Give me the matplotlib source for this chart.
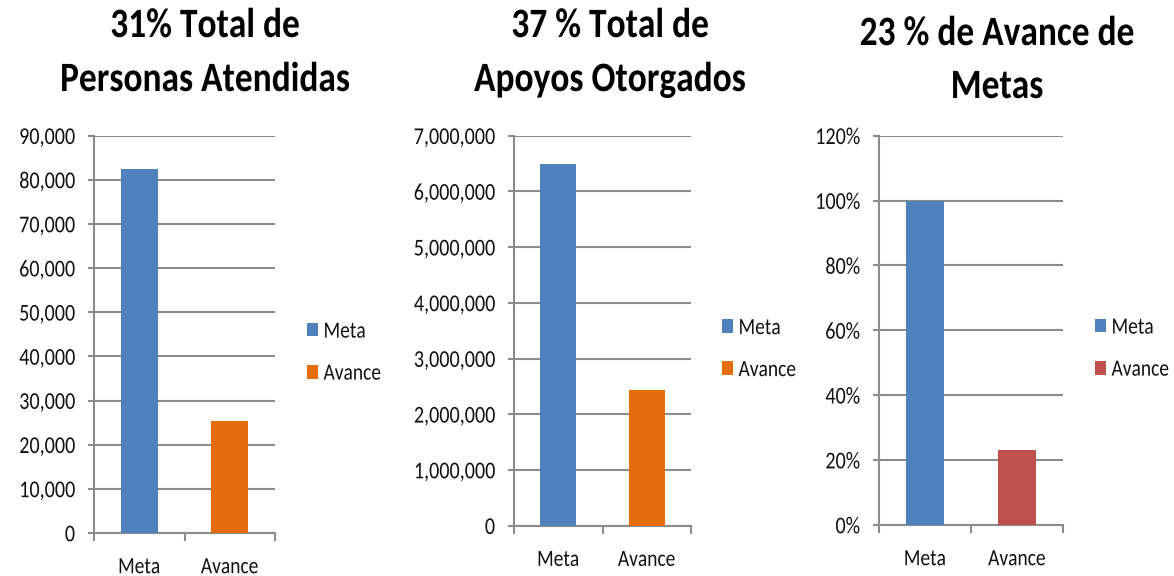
import matplotlib
matplotlib.use("Agg")
import matplotlib.pyplot as plt
from matplotlib.ticker import StrMethodFormatter, PercentFormatter
from matplotlib.patheffects import AbstractPathEffect
from matplotlib.transforms import Affine2D

# ---- data ----
categories = ["Meta", "Avance"]
personas_values = [82400, 25400]
apoyos_values = [6490000, 2435000]
metas_values = [1.00, 0.23]
titles = [
    ["31% Total de", "Personas Atendidas"],
    ["37 % Total de", "Apoyos Otorgados"],
    ["23 % de Avance de", "Metas"],
]
y_limits = [(0, 90000), (0, 7000000), (0, 1.2)]
y_steps = [10000, 1000000, 0.2]

FONT = ["Carlito", "DejaVu Sans"]
plt.rcParams["font.family"] = FONT

BLUE = "#4F81BD"
ORANGE = "#E46C0A"
RED = "#C0504D"
GRID = "#8C8C8C"
TXT = "#111111"


class VStretch(AbstractPathEffect):
    """Stretch glyphs vertically (the reference image is taller than wide)."""

    def __init__(self, sy, y0=0.0):
        super().__init__()
        self.sy = sy
        self.y0 = y0

    def draw_path(self, renderer, gc, tpath, affine, rgbFace=None):
        t = Affine2D().translate(0, -self.y0).scale(1, self.sy).translate(0, self.y0)
        renderer.draw_path(gc, tpath, t + affine, rgbFace)


STRETCH_MID = [VStretch(1.2, 32.0)]
STRETCH_BASE = [VStretch(1.18, 0.0)]

W, H = 1174, 576
fig = plt.figure(figsize=(W / 100, H / 100), dpi=100)


def fx(px):
    return px / W


def fy(py):
    return 1 - py / H


# axes rectangles in pixel coords (left, right, top, bottom)
rects = [(94, 275, 135.7, 533), (514, 691, 135.7, 525.7), (879, 1063, 135.7, 525)]
bar_colors = [[BLUE, ORANGE], [BLUE, ORANGE], [BLUE, RED]]
series = [personas_values, apoyos_values, metas_values]
legend_pos = [(307, 352), (722, 348.5), (1095, 348)]
title_pos = [(205, 37, 91), (610, 37, 91), (997, 45, 98)]

for i in range(3):
    l, r, t, b = rects[i]
    ax = fig.add_axes([fx(l), fy(b), fx(r - l), (b - t) / H])
    vals = series[i]
    for j, cat in enumerate(categories):
        ax.bar(j, vals[j], width=0.41, color=bar_colors[i][j], label=cat, zorder=3)
    ax.set_xlim(-0.5, 1.5)
    lo, hi = y_limits[i]
    ax.set_ylim(lo, hi)
    n = int(round((hi - lo) / y_steps[i]))
    ax.set_yticks([lo + k * y_steps[i] for k in range(n + 1)])
    if i < 2:
        ax.yaxis.set_major_formatter(StrMethodFormatter("{x:,.0f}"))
    else:
        ax.yaxis.set_major_formatter(PercentFormatter(xmax=1, decimals=0))
    ax.grid(axis="y", color=GRID, linewidth=1.5, zorder=0)
    ax.set_axisbelow(True)
    for s in ["top", "right"]:
        ax.spines[s].set_visible(False)
    for s in ["left", "bottom"]:
        ax.spines[s].set_color(GRID)
        ax.spines[s].set_linewidth(1.5)
    ax.tick_params(axis="y", length=4.3, width=1.5, color=GRID, pad=9.4,
                   labelsize=14.5, labelcolor=TXT)
    ax.set_xticks([0, 1])
    ax.set_xticklabels(categories)
    ax.tick_params(axis="x", which="major", length=0, pad=18.7, labelsize=14,
                   labelcolor=TXT)
    ax.set_xticks([-0.5, 0.5, 1.5], minor=True)
    ax.tick_params(axis="x", which="minor", length=6, width=1.5, color=GRID)
    for lab in ax.get_yticklabels() + ax.get_xticklabels():
        lab.set_path_effects(STRETCH_MID)

    lx, ly = legend_pos[i]
    leg = ax.legend(loc="center left", bbox_to_anchor=(fx(lx), fy(ly)),
                    bbox_transform=fig.transFigure, frameon=False, fontsize=14,
                    borderpad=0, borderaxespad=0, handlelength=0.57,
                    handleheight=0.72, handletextpad=0.28, labelspacing=1.3,
                    labelcolor=TXT)
    for txt in leg.get_texts():
        txt.set_path_effects(STRETCH_MID)

    cx, b1, b2 = title_pos[i]
    for line, base in zip(titles[i], (b1, b2)):
        fig.text(fx(cx), fy(base), line, ha="center", va="baseline",
                 fontsize=25.5, fontweight="bold", color="black",
                 path_effects=STRETCH_BASE)

fig.savefig("out.png", dpi=100)
